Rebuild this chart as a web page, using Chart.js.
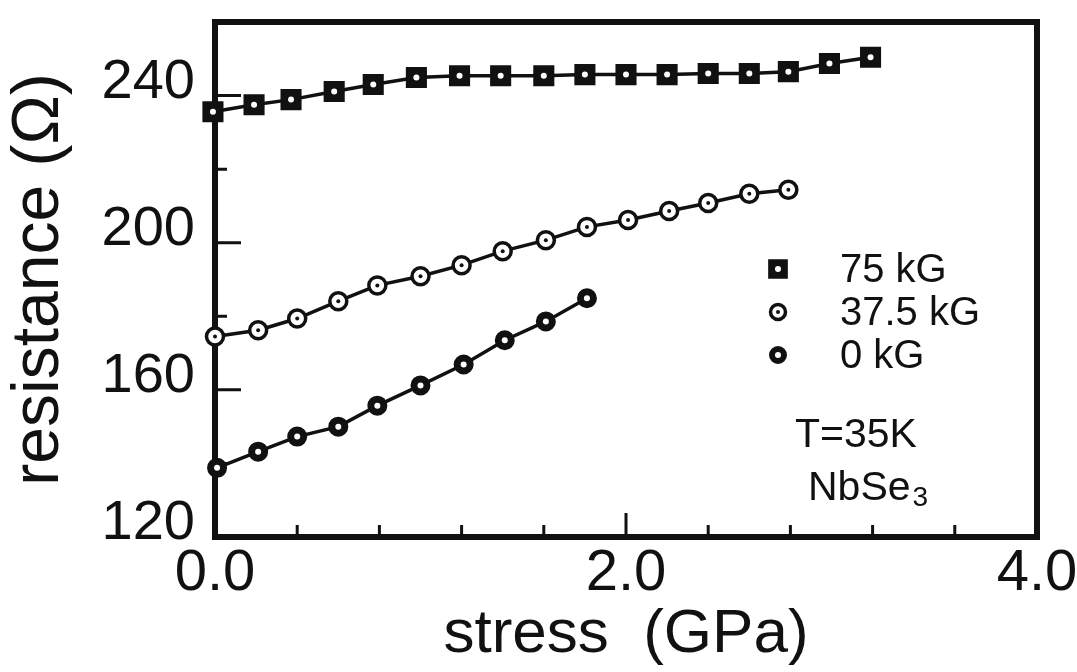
<!DOCTYPE html>
<html>
<head>
<meta charset="utf-8">
<title>NbSe3 resistance vs stress</title>
<script src="https://cdn.jsdelivr.net/npm/chart.js@4.4.1/dist/chart.umd.min.js"></script>
<style>
  body { margin: 0; background: #fff; }
  canvas { display: block; }
</style>
</head>
<body>
<canvas id="stressChart" width="1077" height="672"></canvas>
<script>
// stress (GPa) and resistance (ohm) measured at each field
const stress75 = [-0.01, 0.19, 0.37, 0.58, 0.77, 0.98, 1.19, 1.39, 1.60, 1.80, 2.00, 2.20, 2.40, 2.60, 2.79, 2.99, 3.19];
const res75 = [235.6, 237.5, 238.9, 241.1, 243.0, 244.9, 245.4, 245.4, 245.4, 245.7, 245.7, 245.7, 246.0, 246.0, 246.5, 248.7, 250.4];

const stress37 = [0.00, 0.21, 0.40, 0.60, 0.79, 1.00, 1.20, 1.40, 1.61, 1.81, 2.01, 2.21, 2.40, 2.60, 2.79];
const res37 = [174.5, 176.2, 179.4, 184.1, 188.4, 190.9, 193.9, 197.7, 200.7, 204.3, 206.2, 208.6, 210.8, 213.3, 214.4];

const stress0 = [0.01, 0.21, 0.40, 0.60, 0.79, 1.00, 1.21, 1.41, 1.61, 1.81];
const res0 = [138.8, 143.2, 147.3, 150.0, 155.7, 161.2, 166.9, 173.5, 178.6, 184.9];

const seriesLabels = ['75 kG', '37.5 kG', '0 kG'];

// axis ticks
const xTickValues = [0, 2, 4];
const xMajorMarks = [2.0];
const xMinorMarks = [0.4, 0.8, 1.2, 1.6, 2.4, 2.8, 3.2, 3.6];
const yTickValues = [120, 160, 200, 240];
const yMajorMarks = [160, 200, 240];
const yMinorMarks = [140, 180, 220];

const FONT = "'Liberation Sans', Arial, Helvetica, sans-serif";
const INK = '#111';

function toPoints(xs, ys) {
    return xs.map((x, i) => ({ x: x, y: ys[i] }));
}

// marker look for each series, shared by the plot and the key
const markerStyles = [
    { pointStyle: 'rect', radius: 13.5, fill: INK, border: 2, dot: '#fff', dotR: 3 },
    { pointStyle: 'circle', radius: 8.5, fill: '#fff', border: 3.5, dot: INK, dotR: 2 },
    { pointStyle: 'circle', radius: 9, fill: INK, border: 2, dot: '#fff', dotR: 3 }
];

function makeDataset(label, xs, ys, style) {
    return {
        label: label,
        data: toPoints(xs, ys),
        showLine: true,
        borderColor: INK,
        borderWidth: 3.5,
        tension: 0,
        clip: false,
        pointStyle: style.pointStyle,
        pointRadius: style.radius,
        pointHoverRadius: style.radius,
        pointBackgroundColor: style.fill,
        pointBorderColor: INK,
        pointBorderWidth: style.border,
        centerDot: { color: style.dot, r: style.dotR }
    };
}

// frame, inward tick marks, center dots, key and sample notes
const plotDecor = {
    id: 'plotDecor',
    beforeDatasetsDraw(chart) {
        const ctx = chart.ctx;
        const a = chart.chartArea;
        const xs = chart.scales.x;
        const ys = chart.scales.y;
        ctx.save();
        ctx.strokeStyle = INK;
        ctx.lineWidth = 3;
        ctx.beginPath();
        xMajorMarks.concat(xMinorMarks).forEach(v => {
            const len = xMajorMarks.includes(v) ? 24 : 12;
            const px = xs.getPixelForValue(v);
            ctx.moveTo(px, a.bottom);
            ctx.lineTo(px, a.bottom - len);
        });
        yMajorMarks.concat(yMinorMarks).forEach(v => {
            const len = yMajorMarks.includes(v) ? 26 : 12;
            const py = ys.getPixelForValue(v);
            ctx.moveTo(a.left, py);
            ctx.lineTo(a.left + len, py);
        });
        ctx.stroke();
        ctx.lineWidth = 6;
        ctx.strokeRect(a.left, a.top, a.right - a.left, a.bottom - a.top);
        ctx.restore();
    },
    afterDatasetsDraw(chart) {
        const ctx = chart.ctx;
        ctx.save();
        chart.data.datasets.forEach((ds, i) => {
            const meta = chart.getDatasetMeta(i);
            ctx.fillStyle = ds.centerDot.color;
            meta.data.forEach(pt => {
                ctx.beginPath();
                ctx.arc(pt.x, pt.y, ds.centerDot.r, 0, Math.PI * 2);
                ctx.fill();
            });
        });

        // key
        const keyX = 778;
        const keyRows = [269, 312, 355];
        ctx.font = '40px ' + FONT;
        ctx.textBaseline = 'middle';
        ctx.textAlign = 'left';
        seriesLabels.forEach((label, i) => {
            const s = markerStyles[i];
            ctx.fillStyle = s.fill;
            ctx.strokeStyle = INK;
            ctx.lineWidth = s.border;
            Chart.helpers.drawPoint(ctx, {
                pointStyle: s.pointStyle,
                radius: s.radius - 1,
                rotation: 0,
                borderWidth: s.border
            }, keyX, keyRows[i]);
            ctx.fillStyle = s.dot;
            ctx.beginPath();
            ctx.arc(keyX, keyRows[i], s.dotR, 0, Math.PI * 2);
            ctx.fill();
            ctx.fillStyle = INK;
            ctx.fillText(label, 840, keyRows[i] + 2);
        });

        // sample notes
        ctx.font = '41px ' + FONT;
        ctx.textAlign = 'center';
        ctx.textBaseline = 'alphabetic';
        ctx.fillText('T=35K', 856, 447);
        ctx.textAlign = 'left';
        ctx.fillText('NbSe', 808, 500);
        const w = ctx.measureText('NbSe').width;
        ctx.font = '28px ' + FONT;
        ctx.fillText('3', 808 + w + 2, 506);
        ctx.restore();
    }
};

const ctx = document.getElementById('stressChart').getContext('2d');
new Chart(ctx, {
    type: 'scatter',
    data: {
        datasets: [
            makeDataset(seriesLabels[0], stress75, res75, markerStyles[0]),
            makeDataset(seriesLabels[1], stress37, res37, markerStyles[1]),
            makeDataset(seriesLabels[2], stress0, res0, markerStyles[2])
        ]
    },
    options: {
        responsive: false,
        animation: false,
        layout: {
            padding: { left: 0, top: 22, right: 40, bottom: 0 }
        },
        plugins: {
            legend: { display: false },
            tooltip: { enabled: false }
        },
        scales: {
            x: {
                type: 'linear',
                min: 0,
                max: 4,
                afterFit: scale => {
                    scale.height = 135;
                    scale.paddingLeft = 0;
                    scale.paddingRight = 0;
                },
                afterBuildTicks: scale => { scale.ticks = xTickValues.map(v => ({ value: v })); },
                grid: { display: false, drawTicks: false },
                border: { display: false },
                ticks: {
                    color: INK,
                    padding: 2,
                    font: { family: FONT, size: 58 },
                    callback: v => v.toFixed(1)
                },
                title: {
                    display: true,
                    text: 'stress  (GPa)',
                    color: INK,
                    font: { family: FONT, size: 62 },
                    padding: { top: 0, bottom: 0 }
                }
            },
            y: {
                type: 'linear',
                min: 120,
                max: 260,
                afterFit: scale => {
                    scale.width = 215;
                    scale.paddingTop = 0;
                    scale.paddingBottom = 0;
                },
                afterBuildTicks: scale => { scale.ticks = yTickValues.map(v => ({ value: v })); },
                grid: { display: false, drawTicks: false },
                border: { display: false },
                ticks: {
                    color: INK,
                    padding: 20,
                    labelOffset: -13,
                    font: { family: FONT, size: 56 }
                },
                title: {
                    display: true,
                    text: 'resistance (Ω)',
                    color: INK,
                    font: { family: FONT, size: 66 },
                    padding: { top: 0, bottom: 0 }
                }
            }
        }
    },
    plugins: [plotDecor]
});
</script>
</body>
</html>
